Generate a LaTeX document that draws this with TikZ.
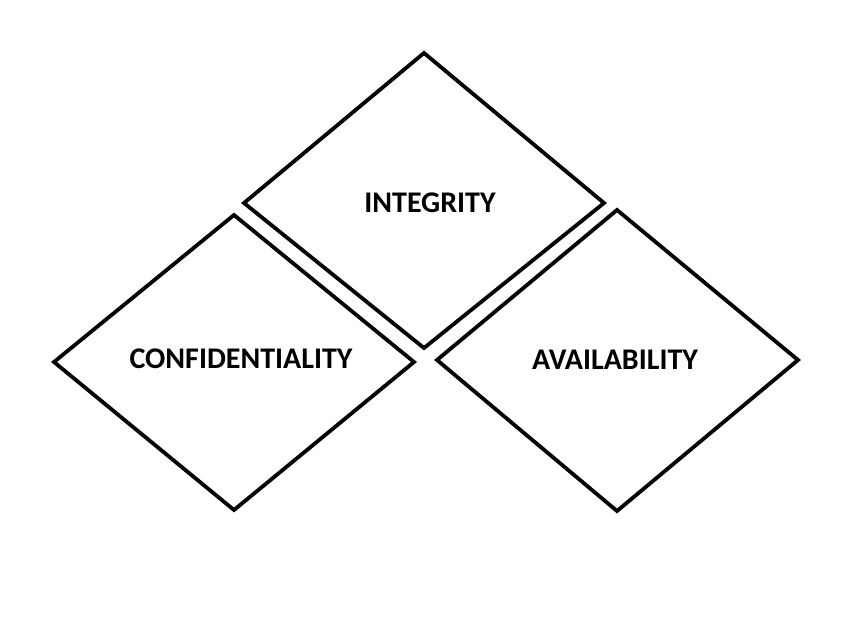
\documentclass[tikz,border=0pt]{standalone}
\usepackage{fontspec}
\setmainfont{Carlito}
\begin{document}
\begin{tikzpicture}[x=1pt,y=-1pt,
  diam/.style={draw=black,line width=3.8pt,line join=miter},
  lbl/.style={font=\bfseries\fontsize{30}{34}\selectfont,inner sep=0pt}]
\useasboundingbox (0,0) rectangle (859,618);
\draw[diam] (424,53) -- (604,203) -- (424,348) -- (244,203) -- cycle;
\draw[diam] (234,215) -- (414,362) -- (234,510) -- (54,362) -- cycle;
\draw[diam] (617,210) -- (798,360) -- (617,511) -- (437,360) -- cycle;
\node[lbl] (integrity) at (430,203) {INTEGRITY};
\node[lbl] (conf) at (241,359) {CONFIDENTIALITY};
\node[lbl] (avail) at (615,360) {AVAILABILITY};
\end{tikzpicture}
\end{document}
